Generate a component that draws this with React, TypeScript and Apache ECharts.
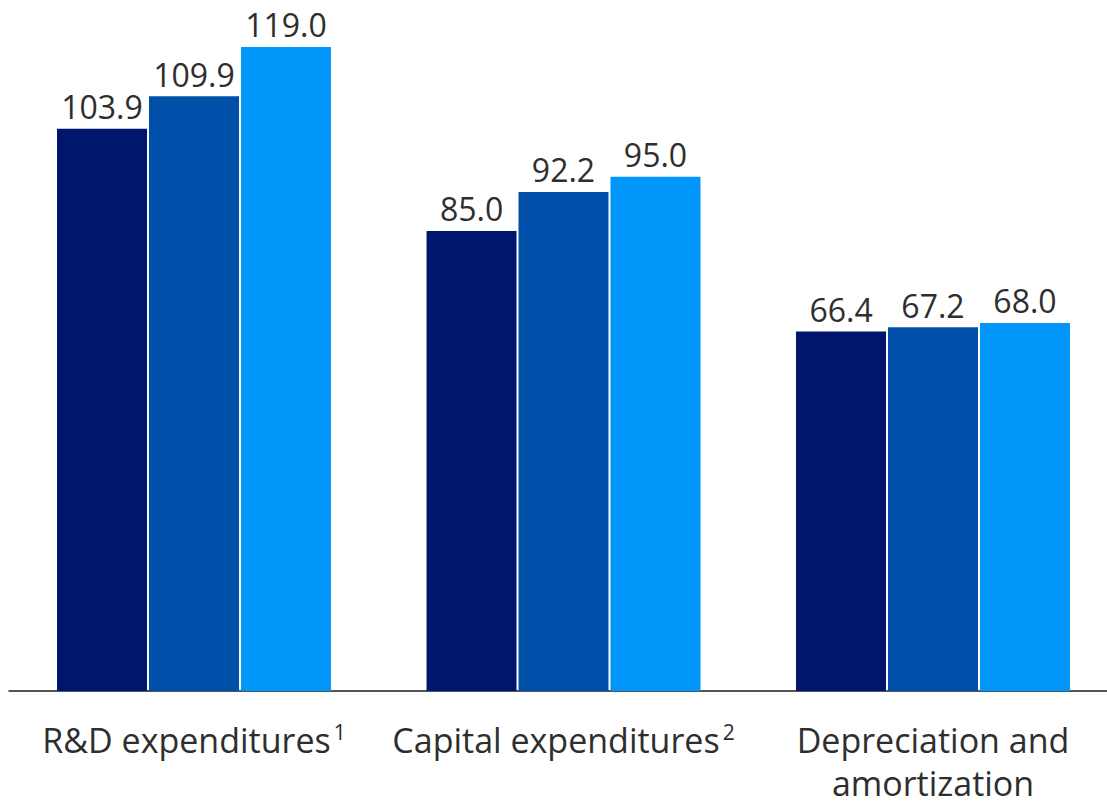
import React, { useEffect, useRef } from "react";
import * as echarts from "echarts";

const categories = ["R&D expenditures{sup|1}", "Capital expenditures{sup|2}", "Depreciation and\namortization"];
const series1 = [103.9, 85.0, 66.4];
const series2 = [109.9, 92.2, 67.2];
const series3 = [119.0, 95.0, 68.0];
const seriesNames = ["A", "B", "C"];
const colors = ["#00156e", "#0050aa", "#0096fa"];

export default function App() {
  const ref = useRef<HTMLDivElement>(null);
  useEffect(() => {
    if (!ref.current) return;
    const chart = echarts.init(ref.current, undefined, { renderer: "svg" });
    const font = "'Open Sans', 'Noto Sans', sans-serif";
    const mk = (name: string, data: number[], color: string) => ({
      name,
      type: "bar",
      data,
      barWidth: 90,
      barGap: "2.2%",
      itemStyle: { color },
      label: {
        show: true,
        position: "top",
        distance: 6,
        color: "#2e2e2e",
        fontSize: 32,
        fontFamily: font,
        formatter: (p: any) => Number(p.value).toFixed(1),
      },
    });
    chart.setOption({
      animation: false,
      grid: { left: 9.25, width: 1108.5, top: 41.5, bottom: 114, containLabel: false, outerBoundsMode: "none" },
      xAxis: {
        type: "category",
        data: categories,
        axisTick: { show: false },
        axisLine: { lineStyle: { color: "#555", width: 2 } },
        axisLabel: {
          color: "#2e2e2e",
          fontSize: 34,
          fontFamily: font,
          lineHeight: 43,
          margin: 27,
          interval: 0,
          rich: {
            sup: { fontSize: 21, fontFamily: font, color: "#2e2e2e", verticalAlign: "top", lineHeight: 38, padding: [3, 0, 0, 3] },
          },
        },
      },
      yAxis: {
        type: "value",
        min: 0,
        max: 120,
        show: false,
        splitLine: { show: false },
      },
      series: [
        mk(seriesNames[0], series1, colors[0]),
        mk(seriesNames[1], series2, colors[1]),
        mk(seriesNames[2], series3, colors[2]),
      ],
    });
    return () => chart.dispose();
  }, []);
  return (
    <div
      ref={ref}
      style={{ position: "fixed", left: 0, top: 0, width: 1107, height: 805, background: "#fff" }}
    />
  );
}
